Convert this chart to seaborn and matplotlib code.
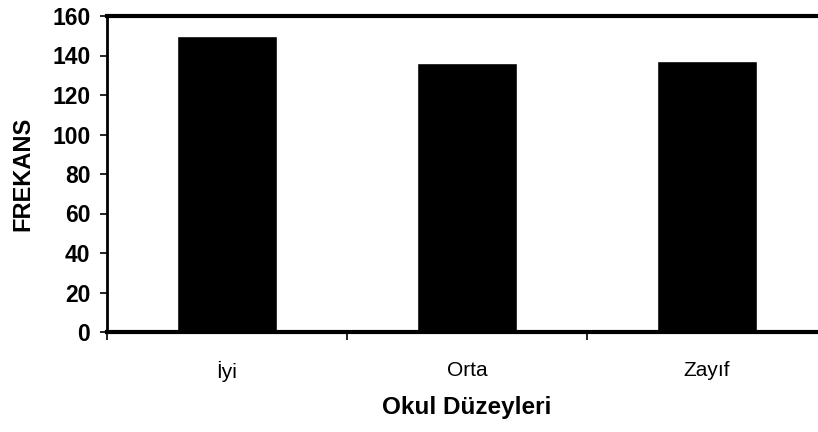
import pandas as pd
import matplotlib
matplotlib.use("Agg")
import matplotlib.pyplot as plt
import seaborn as sns

# data
levels = ["İyi", "Orta", "Zayıf"]
frequencies = [150, 136, 137]
y_ticks = [0, 20, 40, 60, 80, 100, 120, 140, 160]

df = pd.DataFrame({"level": levels, "freq": frequencies})

sns.set_style("ticks")
plt.rcParams["font.family"] = ["Liberation Sans", "DejaVu Sans"]
plt.rcParams["text.color"] = "black"
plt.rcParams["axes.labelcolor"] = "black"
plt.rcParams["xtick.color"] = "black"
plt.rcParams["ytick.color"] = "black"

fig = plt.figure(figsize=(8.18, 4.32), dpi=100)
# axes run past the right edge like in the (cropped) original
ax = fig.add_axes([107 / 818, 100 / 432, 720 / 818, 316 / 432])

sns.barplot(data=df, x="level", y="freq", color="black", width=0.42,
            saturation=1, ax=ax)

ax.set_xlim(-0.5, 2.5)
ax.set_ylim(0, 160)
ax.set_yticks(y_ticks)
ax.tick_params(axis="y", labelsize=16.5, length=5, width=1.2, pad=7)
for lbl in ax.get_yticklabels():
    lbl.set_fontweight("bold")

# category labels between boundary ticks
ax.tick_params(axis="x", which="major", length=0, pad=21, labelsize=15)
ax.set_xticks([-0.5, 0.5, 1.5, 2.5], minor=True)
ax.tick_params(axis="x", which="minor", length=6, width=1.2)

ax.set_xlabel("Okul Düzeyleri", fontsize=17.5, fontweight="bold", labelpad=10)
ax.set_ylabel("FREKANS", fontsize=17, fontweight="bold", labelpad=13)

for side in ["left", "bottom", "top"]:
    ax.spines[side].set_visible(True)
    ax.spines[side].set_color("black")
ax.spines["left"].set_linewidth(2)
ax.spines["bottom"].set_linewidth(3)
ax.spines["top"].set_linewidth(3)
ax.spines["right"].set_visible(False)

fig.savefig("out.png", dpi=100)
